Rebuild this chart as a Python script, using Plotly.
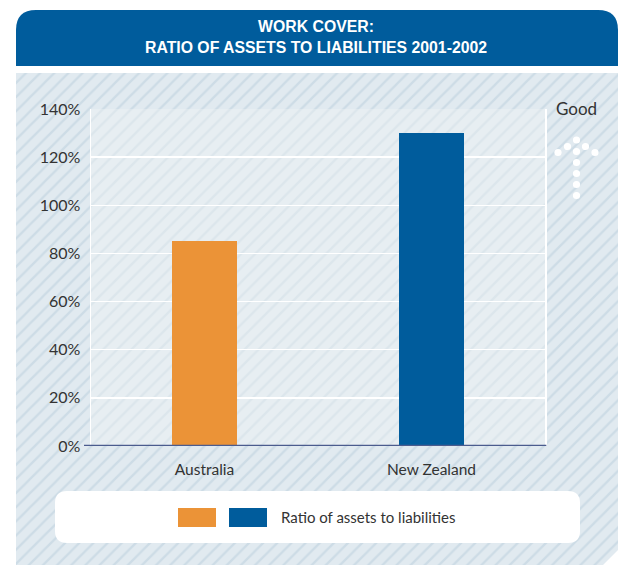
import plotly.graph_objects as go

categories = ["Australia", "New Zealand"]
values = [85, 130]
bar_colors = ["#eb9337", "#005c9c"]
title_lines = ["WORK COVER:", "RATIO OF ASSETS TO LIABILITIES 2001-2002"]
legend_label = "Ratio of assets to liabilities"
y_ticks = [0, 20, 40, 60, 80, 100, 120, 140]

W, H = 618, 565
PX0, PX1, PY0, PY1 = 91, 545, 109, 446  # plot area in pixels

fig = go.Figure()

# Background hatched panel (subplot 1 is a pixel canvas)
bg_x = [16, 618, 618, 603, 16, 16]
bg_y = [73, 73, 550, 565, 565, 73]
fig.add_trace(go.Scatter(
    x=bg_x, y=bg_y, mode="lines", fill="toself", line=dict(width=0),
    fillcolor="#e1eaf0",
    fillpattern=dict(shape="/", fgcolor="#cddce6", bgcolor="#e1eaf0", size=10, solidity=0.22),
    hoverinfo="skip", showlegend=False, xaxis="x", yaxis="y"))
# lighter plot area
fig.add_trace(go.Scatter(
    x=[PX0, PX1, PX1, PX0, PX0], y=[PY0, PY0, PY1, PY1, PY0], mode="lines", fill="toself",
    line=dict(width=0), fillcolor="#e7eef2",
    fillpattern=dict(shape="/", fgcolor="#dce6ec", bgcolor="#e7eef2", size=10, solidity=0.22),
    hoverinfo="skip", showlegend=False, xaxis="x", yaxis="y"))

# Bars
fig.add_trace(go.Bar(
    x=categories, y=values, marker=dict(color=bar_colors, line=dict(width=0)),
    width=0.29, xaxis="x2", yaxis="y2", hoverinfo="skip", showlegend=False))

shapes = []
# header
shapes.append(dict(type="path", xref="x", yref="y", layer="above",
                   path="M16,66 L16,30 Q16,10 36,10 L598,10 Q618,10 618,30 L618,66 Z",
                   fillcolor="#005c9c", line=dict(width=0)))
# legend box
shapes.append(dict(type="path", xref="x", yref="y", layer="above",
                   path="M67,491 L568,491 Q580,491 580,503 L580,531 Q580,543 568,543 L67,543 Q55,543 55,531 L55,503 Q55,491 67,491 Z",
                   fillcolor="white", line=dict(width=0)))
# legend swatches
shapes.append(dict(type="rect", xref="x", yref="y", layer="above", x0=178, x1=216, y0=508, y1=527,
                   fillcolor=bar_colors[0], line=dict(width=0)))
shapes.append(dict(type="rect", xref="x", yref="y", layer="above", x0=229, x1=267, y0=508, y1=527,
                   fillcolor=bar_colors[1], line=dict(width=0)))
# baseline
shapes.append(dict(type="line", xref="x2 domain", yref="y2", layer="above",
                   x0=-7 / (PX1 - PX0), x1=1.003, y0=0, y1=0,
                   line=dict(color="#4b5c8e", width=2.5)))
# "Good" arrow dots
dots = [(576.5, 140), (567.5, 146.5), (585.5, 146.5), (558, 152.5), (595, 152.5),
        (576.5, 151.5), (576.5, 162.5), (576.5, 173.5), (576.5, 184.5), (576.5, 195.5)]
r = 3.6
for cx, cy in dots:
    shapes.append(dict(type="circle", xref="x", yref="y", layer="above",
                       x0=cx - r, x1=cx + r, y0=cy - r, y1=cy + r,
                       fillcolor="white", line=dict(width=0)))

annotations = [
    dict(xref="x", yref="y", x=316, y=37, text="<b>" + "<br>".join(title_lines) + "</b>",
         showarrow=False, font=dict(family="Liberation Sans", size=15.8, color="white"),
         xanchor="center", yanchor="middle", align="center"),
    dict(xref="x", yref="y", x=279, y=517, text=legend_label, showarrow=False,
         font=dict(family="Lato", size=15, color="#333333"), xanchor="left", yanchor="middle"),
    dict(xref="x", yref="y", x=576, y=108, text="Good", showarrow=False,
         font=dict(family="Lato", size=17, color="#333333"), xanchor="center", yanchor="middle"),
]

fig.update_layout(
    template="none",
    width=W, height=H, margin=dict(l=0, r=0, t=0, b=0, pad=0, autoexpand=False),
    paper_bgcolor="white", plot_bgcolor="rgba(0,0,0,0)",
    shapes=shapes, annotations=annotations, bargap=0,
    xaxis=dict(domain=[0, 1], range=[0, W], visible=False, fixedrange=True, automargin=False),
    yaxis=dict(domain=[0, 1], range=[H, 0], visible=False, fixedrange=True, automargin=False),
    xaxis2=dict(domain=[PX0 / W, PX1 / W], anchor="y2", showgrid=False, showline=False,
                ticks="", tickfont=dict(family="Lato", size=15.5, color="#333333"),
                ticklabelstandoff=12, fixedrange=True, automargin=False),
    yaxis2=dict(domain=[1 - PY1 / H, 1 - PY0 / H], anchor="x2", range=[0, 140],
                tickvals=y_ticks, ticktext=[f"{v}%" for v in y_ticks],
                showgrid=True, gridcolor="white", gridwidth=1.5, zeroline=False,
                showline=True, linecolor="white", linewidth=1.5, mirror=True,
                ticks="", tickfont=dict(family="Lato", size=16, color="#333333"),
                ticklabelstandoff=6, fixedrange=True, automargin=False),
)

fig.write_html(
    "out.html",
    config={"displayModeBar": False, "staticPlot": True},
    post_script="document.body.style.margin='0';document.body.style.overflow='hidden';",
)
